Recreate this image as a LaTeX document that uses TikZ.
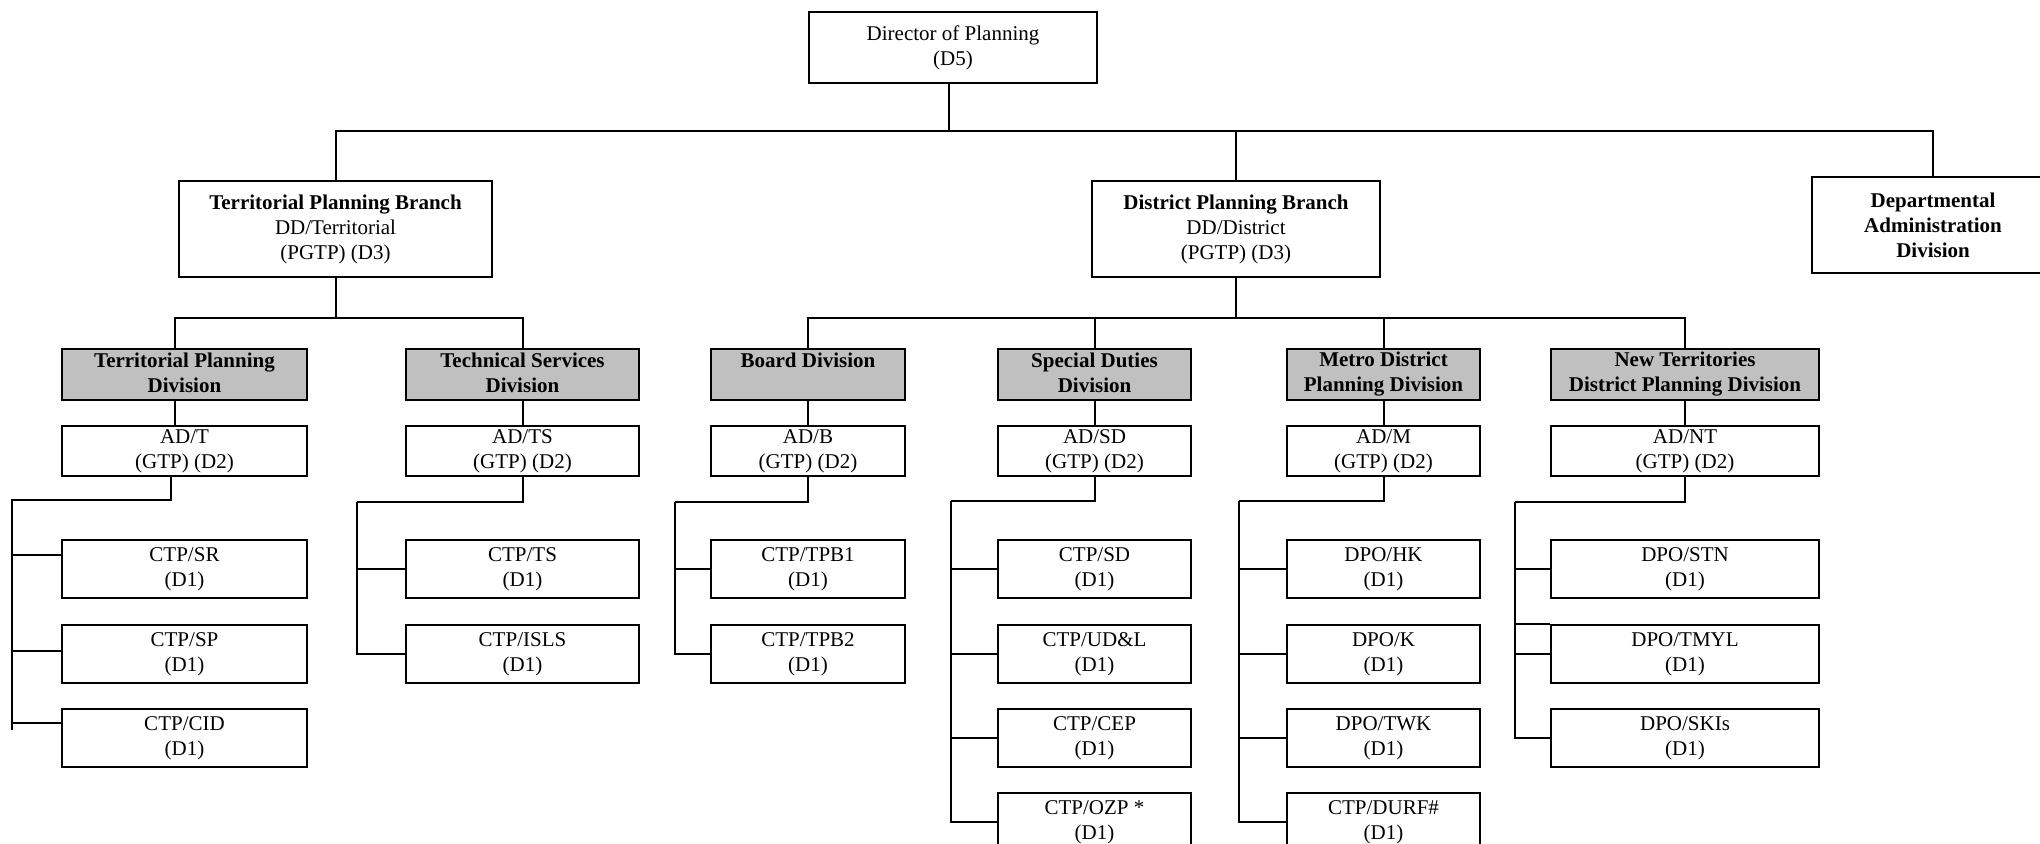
\documentclass[tikz,border=0pt]{standalone}
\usepackage{fontspec}
\setmainfont{Liberation Serif}
\definecolor{divgray}{RGB}{192,192,192}
\begin{document}
\begin{tikzpicture}[x=0.5pt,y=-0.5pt,line width=1pt,
      font=\fontsize{10.5}{12.5}\selectfont,
      box/.style={draw,align=center,inner sep=0pt},
      head node/.style={box,minimum width=144pt,minimum height=35.5pt},
      branch node/.style={box,minimum height=48pt},
      div node/.style={box,fill=divgray,font=\fontsize{10.5}{12.5}\selectfont\bfseries,minimum height=25.5pt,
        execute at begin node=\rule{0pt}{10.5pt},execute at end node=\rule[-2pt]{0pt}{0pt}},
      ad node/.style={box,minimum height=25pt},
      post node/.style={box,minimum height=29pt},
      colT/.style={minimum width=122.5pt},
      colTS/.style={minimum width=116.5pt},
      colB/.style={minimum width=97pt},
      colSD/.style={minimum width=96.5pt},
      colM/.style={minimum width=96.5pt},
      colNT/.style={minimum width=134pt}]

      \useasboundingbox (0,0) rectangle (2040,843);

      % top of the chart
      \node[head node] (dir) at (953,47.5) {Director of Planning\\(D5)};
      \node[branch node,minimum width=156.5pt] (tpb) at (335.5,229) {\textbf{Territorial Planning Branch}\\DD/Territorial\\(PGTP) (D3)};
      \node[branch node,minimum width=144pt] (dpb) at (1236,229) {\textbf{District Planning Branch}\\DD/District\\(PGTP) (D3)};
      \node[branch node,minimum width=121pt,font=\fontsize{10.5}{12.5}\selectfont\bfseries] (dad) at (1933,225) {Departmental\\Administration\\Division};

      % divisions
      \node[div node,colT] (tpd) at (184.5,374.5) {Territorial Planning\\Division};
      \node[div node,colTS] (tsd) at (522.5,374.5) {Technical Services\\Division};
      \node[div node,colB] (bd) at (808,374.5) {Board Division\\};
      \node[div node,colSD] (sdd) at (1094.5,374.5) {Special Duties\\Division};
      \node[div node,colM] (mdd) at (1383.5,374.5) {Metro District\\Planning Division};
      \node[div node,colNT] (ntd) at (1685,374.5) {New Territories\\District Planning Division};

      % assistant directors
      \node[ad node,colT] (adt) at (184.5,451) {AD/T\\(GTP) (D2)};
      \node[ad node,colTS] (adts) at (522.5,451) {AD/TS\\(GTP) (D2)};
      \node[ad node,colB] (adb) at (808,451) {AD/B\\(GTP) (D2)};
      \node[ad node,colSD] (adsd) at (1094.5,451) {AD/SD\\(GTP) (D2)};
      \node[ad node,colM] (adm) at (1383.5,451) {AD/M\\(GTP) (D2)};
      \node[ad node,colNT] (adnt) at (1685,451) {AD/NT\\(GTP) (D2)};

      % posts
      \node[post node,colT] (sr) at (184.5,569) {CTP/SR\\(D1)};
      \node[post node,colT] (sp) at (184.5,654) {CTP/SP\\(D1)};
      \node[post node,colT] (cid) at (184.5,738) {CTP/CID\\(D1)};

      \node[post node,colTS] (ts) at (522.5,569) {CTP/TS\\(D1)};
      \node[post node,colTS] (isls) at (522.5,654) {CTP/ISLS\\(D1)};

      \node[post node,colB] (b1) at (808,569) {CTP/TPB1\\(D1)};
      \node[post node,colB] (b2) at (808,654) {CTP/TPB2\\(D1)};

      \node[post node,colSD] (sd) at (1094.5,569) {CTP/SD\\(D1)};
      \node[post node,colSD] (udl) at (1094.5,654) {CTP/UD\&L\\(D1)};
      \node[post node,colSD] (cep) at (1094.5,738) {CTP/CEP\\(D1)};
      \node[post node,colSD] (ozp) at (1094.5,822) {CTP/OZP *\\(D1)};

      \node[post node,colM] (hk) at (1383.5,569) {DPO/HK\\(D1)};
      \node[post node,colM] (k) at (1383.5,654) {DPO/K\\(D1)};
      \node[post node,colM] (twk) at (1383.5,738) {DPO/TWK\\(D1)};
      \node[post node,colM] (durf) at (1383.5,822) {CTP/DURF\#\\(D1)};

      \node[post node,colNT] (stn) at (1685,569) {DPO/STN\\(D1)};
      \node[post node,colNT] (tmyl) at (1685,654) {DPO/TMYL\\(D1)};
      \node[post node,colNT] (skis) at (1685,738) {DPO/SKIs\\(D1)};

      % upper lines
      \coordinate (bar) at (0,131);
      \coordinate (sub) at (0,318);
      \draw ([xshift=-2pt]dir.south) -- ([xshift=-2pt]dir.south |- bar);
      \draw (tpb.north) -- (tpb.north |- bar) -- (dad.north |- bar) -- (dad.north);
      \draw (dpb.north) -- (dpb.north |- bar);
      \draw (tpb.south) -- (tpb.south |- sub);
      \draw ([xshift=-5pt]tpd.north) |- (tsd.north |- sub) -- (tsd.north);
      \draw (dpb.south) -- (dpb.south |- sub);
      \draw (bd.north) |- (ntd.north |- sub) -- (ntd.north);
      \draw (sdd.north) -- (sdd.north |- sub);
      \draw (mdd.north) -- (mdd.north |- sub);

      \draw ([xshift=-5pt]tpd.south) -- ([xshift=-5pt]adt.north);
      \draw (tsd) -- (adts);
      \draw (bd) -- (adb);
      \draw (sdd) -- (adsd);
      \draw (mdd) -- (adm);
      \draw (ntd) -- (adnt);

      % lower lines
      \coordinate (jT) at (12,500);
      \coordinate (jTend) at (12,730);
      \draw ([xshift=-7pt]adt.south) |- (jT) -- (jTend);
      \draw (jT) |- ([yshift=7pt]sr.west);
      \draw (jT) |- ([yshift=1.5pt]sp.west);
      \draw (jT) |- ([yshift=7.5pt]cid.west);

      \coordinate (jTS) at (357,502);
      \draw (adts.south) |- (jTS);
      \draw (jTS) |- (ts.west);
      \draw (jTS) |- (isls.west);

      \coordinate (jB) at (675,502);
      \draw (adb.south) |- (jB);
      \draw (jB) |- (b1.west);
      \draw (jB) |- (b2.west);

      \coordinate (jSD) at (951,501);
      \draw (adsd.south) |- (jSD);
      \draw (jSD) |- (sd.west);
      \draw (jSD) |- (udl.west);
      \draw (jSD) |- (cep.west);
      \draw (jSD) |- (ozp.west);

      \coordinate (jM) at (1239,501);
      \draw (adm.south) |- (jM);
      \draw (jM) |- (hk.west);
      \draw (jM) |- (k.west);
      \draw (jM) |- (twk.west);
      \draw (jM) |- (durf.west);

      \coordinate (jNT) at (1515,502);
      \draw (adnt.south) |- (jNT);
      \draw (jNT) |- (stn.west);
      \draw (jNT) |- (tmyl.north west);
      \draw (jNT) |- (tmyl.west);
      \draw (jNT) |- (skis.west);
\end{tikzpicture}
\end{document}
